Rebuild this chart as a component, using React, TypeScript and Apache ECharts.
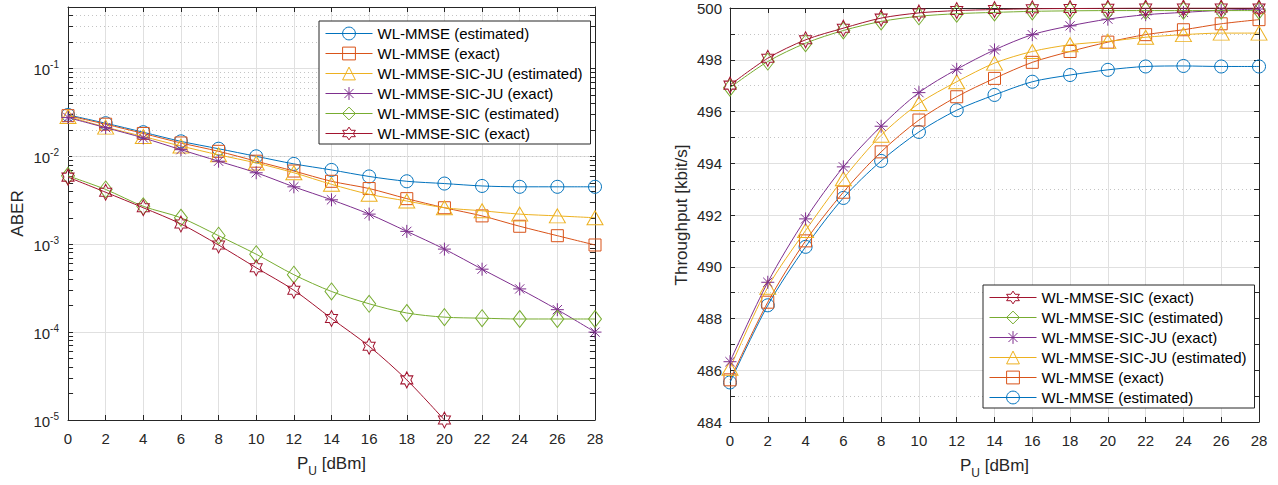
import React, { useEffect, useRef } from "react";
import * as echarts from "echarts";

// ---------- data ----------
const PU = [0, 2, 4, 6, 8, 10, 12, 14, 16, 18, 20, 22, 24, 26, 28];

const NAMES = [
  "WL-MMSE (estimated)",
  "WL-MMSE (exact)",
  "WL-MMSE-SIC-JU (estimated)",
  "WL-MMSE-SIC-JU (exact)",
  "WL-MMSE-SIC (estimated)",
  "WL-MMSE-SIC (exact)",
];

// Left plot: ABER (log scale)
const aberWlEst = [0.0296, 0.0238, 0.0188, 0.0148, 0.0122, 0.01, 0.0082, 0.007, 0.0059, 0.0052, 0.0049, 0.0046, 0.0045, 0.0045, 0.0045];
const aberWlExact = [0.029, 0.0232, 0.0182, 0.0142, 0.0114, 0.0088, 0.0068, 0.0052, 0.0043, 0.0033, 0.0026, 0.0021, 0.0016, 0.00125, 0.00098];
const aberJuEst = [0.0284, 0.0215, 0.0168, 0.0131, 0.0104, 0.0084, 0.0065, 0.0048, 0.0037, 0.0031, 0.0026, 0.0024, 0.0022, 0.0021, 0.002];
const aberJuExact = [0.0276, 0.0212, 0.0162, 0.0119, 0.0088, 0.0065, 0.0045, 0.0032, 0.0022, 0.0014, 0.00088, 0.00052, 0.00031, 0.00018, 0.0001];
const aberSicEst = [0.006, 0.0042, 0.0027, 0.002, 0.00125, 0.00077, 0.00045, 0.00029, 0.00021, 0.000165, 0.000148, 0.000144, 0.000141, 0.000141, 0.000141];
const aberSicExact = [0.0058, 0.0039, 0.0026, 0.0017, 0.00098, 0.00054, 0.0003, 0.000143, 0.000069, 0.0000286, 0.00001];

// Right plot: Throughput [kbit/s]
const thrWlEst = [485.53, 488.51, 490.77, 492.66, 494.09, 495.21, 496.05, 496.64, 497.15, 497.41, 497.61, 497.74, 497.76, 497.74, 497.74];
const thrWlExact = [485.63, 488.63, 491.0, 492.88, 494.44, 495.67, 496.57, 497.28, 497.9, 498.32, 498.68, 498.97, 499.16, 499.39, 499.55];
const thrJuEst = [486.08, 489.21, 491.4, 493.4, 495.08, 496.31, 497.15, 497.87, 498.32, 498.58, 498.71, 498.87, 498.97, 499.03, 499.03];
const thrJuExact = [486.33, 489.4, 491.85, 493.86, 495.43, 496.73, 497.63, 498.38, 498.97, 499.31, 499.57, 499.74, 499.83, 499.91, 499.96];
const thrSicEst = [496.92, 497.93, 498.64, 499.13, 499.48, 499.68, 499.78, 499.83, 499.87, 499.89, 499.9, 499.9, 499.9, 499.9, 499.9];
const thrSicExact = [497.02, 498.06, 498.77, 499.22, 499.61, 499.81, 499.9, 499.94, 499.97, 499.98, 499.99, 500, 500, 500, 500];

const ABER_MIN = 1e-5;
const ABER_MAX = 0.5;
const THR_MIN = 484;
const THR_MAX = 500;
const PU_MIN = 0;
const PU_MAX = 28;
const PU_STEP = 2;
const LOG_DECADES = [-5, -4, -3, -2, -1];
const LOG_MINOR_MULT = [2, 3, 4, 5, 6, 7, 8, 9];

// ---------- style ----------
const COLORS = ["#0072BD", "#D95319", "#EDB120", "#7E2F8E", "#77AC30", "#A2142F"];
const FONT = "'Liberation Sans', Arial, Helvetica, sans-serif";
const AX = "#262626";
const GRID = "#e0e0e0";
const MINOR = "#c4c4c4";

const hexPts: string[] = [];
for (let i = 0; i < 12; i++) {
  const a = ((-90 + 30 * i) * Math.PI) / 180;
  const r = i % 2 === 0 ? 1 : 0.5774;
  hexPts.push(`${(r * Math.cos(a) * 100).toFixed(1)},${(r * Math.sin(a) * 100).toFixed(1)}`);
}
const HEX = "path://M" + hexPts.join("L") + "Z";
const AST = "path://M0,-100L0,100M-100,0L100,0M-71,-71L71,71M-71,71L71,-71";
const SYMBOLS = ["circle", "rect", "triangle", AST, "diamond", HEX];
const SIZES: any[] = [13, 12, [16, 14], 13, [13, 17], [14, 16]];

function mkSeries(idx: number, vals: number[], xi: number, yi: number) {
  const c = COLORS[idx];
  return {
    type: "line",
    name: NAMES[idx],
    xAxisIndex: xi,
    yAxisIndex: yi,
    data: vals.map((v, i) => [PU[i], v]),
    symbol: SYMBOLS[idx],
    symbolSize: SIZES[idx],
    symbolKeepAspect: true,
    smooth: 0.3,
    color: c,
    lineStyle: { color: c, width: 1 },
    itemStyle: { color: "rgba(0,0,0,0)", borderColor: c, borderWidth: 1 },
    emphasis: { disabled: true },
    z: 3 + idx,
  };
}

const minorLog: number[] = [];
LOG_DECADES.forEach((d) =>
  LOG_MINOR_MULT.forEach((m) => {
    const v = m * Math.pow(10, d);
    if (v < ABER_MAX - 1e-12) minorLog.push(v);
  })
);

const TICK_DX = 0.27;

const axLine = { show: true, onZero: false, lineStyle: { color: AX, width: 1 } };
const axTick = { show: true, inside: true, length: 5, lineStyle: { color: AX, width: 1 } };

const xName = "{p|P}{u|U}{p| [dBm]}";
const xNameStyle = {
  fontFamily: FONT,
  color: AX,
  fontSize: 17,
  rich: {
    p: { fontFamily: FONT, color: AX, fontSize: 17, lineHeight: 17, padding: [0, 0, 5, 0] },
    u: { fontFamily: FONT, color: AX, fontSize: 12, lineHeight: 12, padding: [10, 0, 0, 0] },
  },
};

function xAxes(gi: number) {
  return [
    {
      type: "value",
      gridIndex: gi,
      position: "bottom",
      min: PU_MIN,
      max: PU_MAX,
      interval: PU_STEP,
      axisLine: axLine,
      axisTick: axTick,
      axisLabel: { color: AX, fontSize: 15, fontFamily: FONT, margin: 11 },
      splitLine: { show: true, lineStyle: { color: GRID, width: 1 } },
      name: xName,
      nameLocation: "middle",
      nameGap: 37,
      nameTextStyle: xNameStyle,
    },
    {
      type: "value",
      gridIndex: gi,
      position: "top",
      min: PU_MIN,
      max: PU_MAX,
      interval: PU_STEP,
      axisLine: axLine,
      axisTick: axTick,
      axisLabel: { show: false },
      splitLine: { show: false },
    },
  ];
}

const logFormatter = (v: number) => {
  const e = Math.log10(v);
  const r = Math.round(e);
  if (Math.abs(e - r) > 1e-6) return "";
  return `{b|10}{s|${r}}`;
};

const legendBase = {
  orient: "vertical",
  itemWidth: 47,
  itemHeight: 16,
  itemGap: 5,
  padding: [5, 8, 3, 6],
  borderColor: AX,
  borderWidth: 1,
  backgroundColor: "#ffffff",
  selectedMode: false,
  itemStyle: { borderWidth: 1 },
  lineStyle: { width: 1 },
  textStyle: { fontFamily: FONT, fontSize: 15, color: "#000" },
};

const option: any = {
  animation: false,
  backgroundColor: "#ffffff",
  textStyle: { fontFamily: FONT },
  grid: [
    { left: 68, top: 7, width: 527, height: 413, outerBoundsMode: "none" },
    { left: 730, top: 8, width: 529, height: 414, outerBoundsMode: "none" },
  ],
  xAxis: [...xAxes(0), ...xAxes(1)],
  yAxis: [
    {
      type: "log",
      logBase: 10,
      gridIndex: 0,
      position: "left",
      min: ABER_MIN,
      max: ABER_MAX,
      axisLine: axLine,
      axisTick: axTick,
      axisLabel: {
        formatter: logFormatter,
        margin: 9,
        color: AX,
        rich: {
          b: { fontFamily: FONT, color: AX, fontSize: 15, lineHeight: 15, padding: [3, 0, 0, 0] },
          s: { fontFamily: FONT, color: AX, fontSize: 10, lineHeight: 10, padding: [0, 0, 8, 0] },
        },
      },
      splitLine: { show: true, lineStyle: { color: GRID, width: 1 } },
      name: "ABER",
      nameLocation: "middle",
      nameGap: 42,
      nameTextStyle: { fontFamily: FONT, color: AX, fontSize: 17 },
    },
    {
      type: "log",
      logBase: 10,
      gridIndex: 0,
      position: "right",
      min: ABER_MIN,
      max: ABER_MAX,
      axisLine: axLine,
      axisTick: axTick,
      axisLabel: { show: false },
      splitLine: { show: false },
    },
    {
      type: "value",
      gridIndex: 1,
      position: "left",
      min: THR_MIN,
      max: THR_MAX,
      interval: 2,
      axisLine: axLine,
      axisTick: axTick,
      minorTick: { show: true, splitNumber: 2, length: 5, lineStyle: { color: AX, width: 1 } },
      minorSplitLine: { show: true, lineStyle: { color: MINOR, width: 1, type: [1, 3] } },
      axisLabel: { color: AX, fontSize: 15, fontFamily: FONT, margin: 8 },
      splitLine: { show: true, lineStyle: { color: GRID, width: 1 } },
      name: "Throughput [kbit/s]",
      nameLocation: "middle",
      nameGap: 40,
      nameTextStyle: { fontFamily: FONT, color: AX, fontSize: 17 },
    },
    {
      type: "value",
      gridIndex: 1,
      position: "right",
      min: THR_MIN,
      max: THR_MAX,
      interval: 2,
      axisLine: axLine,
      axisTick: axTick,
      minorTick: { show: true, splitNumber: 2, length: 5, lineStyle: { color: AX, width: 1 } },
      axisLabel: { show: false },
      splitLine: { show: false },
    },
  ],
  legend: [
    { ...legendBase, data: NAMES, left: 319, top: 21 },
    { ...legendBase, data: [...NAMES].reverse(), left: 983, top: 285 },
  ],
  series: [
    {
      type: "line",
      name: "_minorLogGrid",
      xAxisIndex: 0,
      yAxisIndex: 0,
      data: [],
      silent: true,
      z: 1,
      markLine: {
        silent: true,
        z: 1,
        symbol: ["none", "none"],
        label: { show: false },
        emphasis: { disabled: true },
        lineStyle: { color: MINOR, width: 1, type: [1, 3] },
        data: [
          ...minorLog.map((v) => ({ yAxis: v, lineStyle: { color: MINOR, width: 1, type: [1, 3] } })),
          ...minorLog.map((v) => [
            { coord: [PU_MIN, v], lineStyle: { color: AX, width: 1, type: "solid" } },
            { coord: [PU_MIN + TICK_DX, v] },
          ]),
          ...minorLog.map((v) => [
            { coord: [PU_MAX - TICK_DX, v], lineStyle: { color: AX, width: 1, type: "solid" } },
            { coord: [PU_MAX, v] },
          ]),
        ],
      },
    },
    mkSeries(0, aberWlEst, 0, 0),
    mkSeries(1, aberWlExact, 0, 0),
    mkSeries(2, aberJuEst, 0, 0),
    mkSeries(3, aberJuExact, 0, 0),
    mkSeries(4, aberSicEst, 0, 0),
    mkSeries(5, aberSicExact, 0, 0),
    mkSeries(0, thrWlEst, 2, 2),
    mkSeries(1, thrWlExact, 2, 2),
    mkSeries(2, thrJuEst, 2, 2),
    mkSeries(3, thrJuExact, 2, 2),
    mkSeries(4, thrSicEst, 2, 2),
    mkSeries(5, thrSicExact, 2, 2),
  ],
};

export default function App() {
  const ref = useRef<HTMLDivElement>(null);
  useEffect(() => {
    const chart = echarts.init(ref.current!, null, { renderer: "svg" });
    chart.setOption(option);
    return () => chart.dispose();
  }, []);
  return (
    <div
      ref={ref}
      style={{ position: "absolute", left: 0, top: 0, width: 1278, height: 485, background: "#fff" }}
    />
  );
}
